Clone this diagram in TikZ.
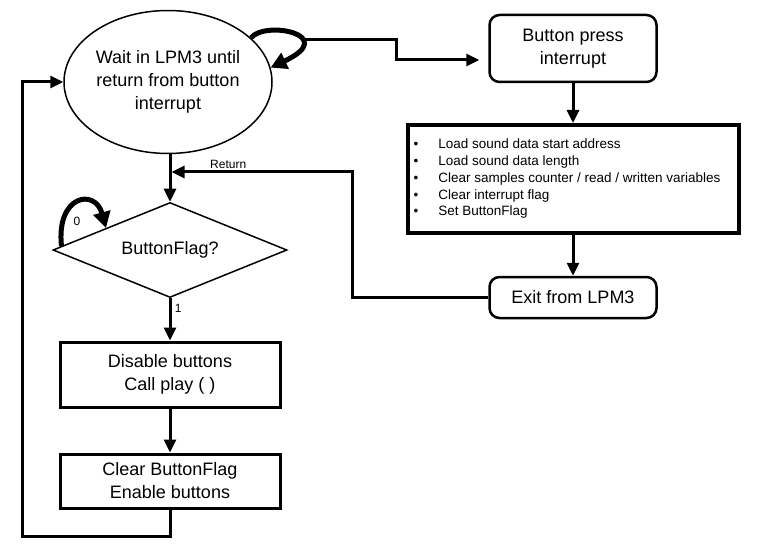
\documentclass[tikz,border=0pt]{standalone}
\usepackage{fontspec}
\setmainfont{Liberation Sans}
\usetikzlibrary{arrows.meta,shapes.geometric}
\tikzset{>={Triangle[length=13pt,width=12pt]}}

\begin{document}
\begin{tikzpicture}[x=1pt,y=-1pt,
  box/.style={rectangle,draw=black,line width=3pt,align=center,inner sep=0pt},
  rbox/.style={rectangle,rounded corners=10pt,draw=black,line width=2.5pt,align=center,inner sep=0pt},
  flow/.style={->,line width=3pt},
  loopy/.style={-{Triangle[length=16pt,width=17pt]},line width=5pt},
  bigtext/.style={font=\fontsize{18}{23}\selectfont},
  smalltext/.style={font=\fontsize{12}{14}\selectfont}]
% \draw[help lines] (0,0) grid (773,548);
\useasboundingbox (0,0) rectangle (773,548);
\node (wait) [ellipse,draw=black,line width=1.5pt,minimum width=208pt,minimum height=143pt,inner sep=0pt,align=center,bigtext] at (168,82) {Wait in LPM3 until\\return from button\\interrupt};
\node (press) [rbox,minimum width=167pt,minimum height=67pt,bigtext] at (573,48.5) {Button press\\interrupt};
\node (load) [box,line width=4pt,minimum width=331pt,minimum height=108pt] at (573,179)
  {\fontsize{13.5}{16.7}\selectfont
   \begin{tabular}{@{}l@{\hspace{20pt}}l@{\hspace{12pt}}}
   • & Load sound data start address\\
   • & Load sound data length\\
   • & Clear samples counter / read / written variables\\
   • & Clear interrupt flag\\
   • & Set ButtonFlag
   \end{tabular}};
\node (exit) [rbox,minimum width=167pt,minimum height=41pt,bigtext] at (573,297.5) {Exit from LPM3};
\node (flag) [diamond,aspect=2.46,draw=black,line width=1.5pt,minimum width=234pt,minimum height=95pt,inner sep=0pt,bigtext] at (170,250) {ButtonFlag?};
\node (play) [box,minimum width=220pt,minimum height=65pt,bigtext] at (170,374.5) {Disable buttons\\Call play ( )};
\node (clear) [box,minimum width=220pt,minimum height=54pt,bigtext] at (170,481) {Clear ButtonFlag\\Enable buttons};
\coordinate (loopend) at (302,40);
%
\draw[loopy] (wait.28) .. controls (265,20) and (340,35) .. (wait.8);
\draw[flow,shorten >=9pt] (loopend) -- (396,40) |- ([yshift=-11.5pt]press.west);
\path[flow] (press) edge (load);
\path[flow] (load) edge (exit);
\draw[flow,shorten >=1.5pt] (exit.west) -| (352,172) -- node[above,pos=0.68,inner sep=1.5pt,smalltext] {Return} (flag.north |- 0,172);
\draw[flow] (wait.south -| flag.north) -- (flag.north);
\draw[loopy] (flag.178) .. controls (56,195) and (95,188) .. (flag.161);
\node (zero) [smalltext] at (77,221) {0};
\draw[flow] (flag.south) -- node[right,pos=0.25,smalltext] {1} (play.north);
\path[flow] (play) edge (clear);
\draw[flow] (clear.south) |- (22,536) |- (wait.west);
\end{tikzpicture}
\end{document}
